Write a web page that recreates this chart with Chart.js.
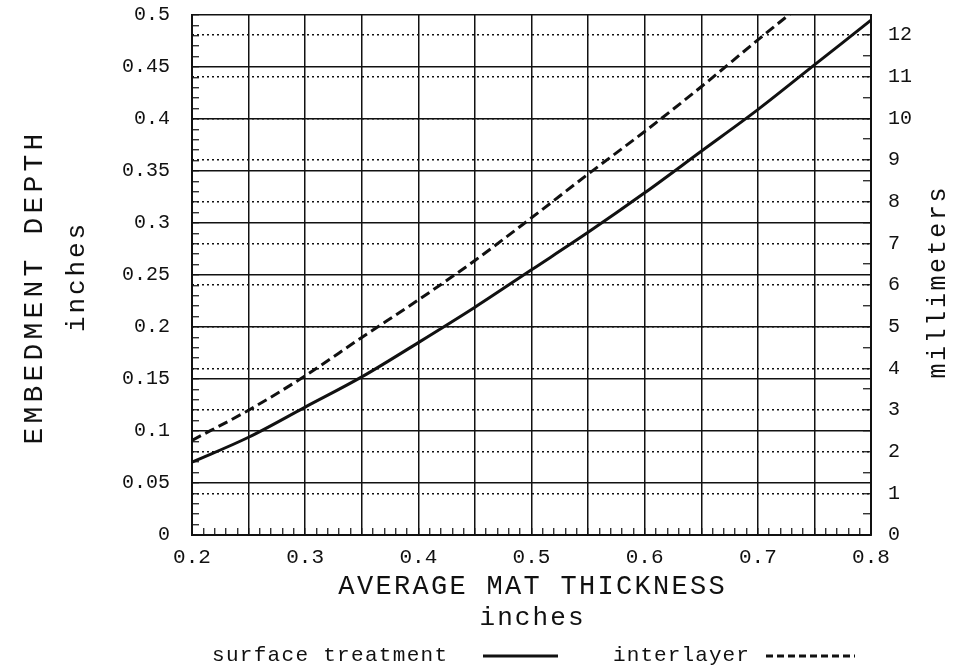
<!DOCTYPE html>
<html>
<head>
<meta charset="utf-8">
<script src="https://cdn.jsdelivr.net/npm/chart.js@4"></script>
<style>
  html, body { margin: 0; padding: 0; background: #fff; }
  #chart { display: block; }
</style>
</head>
<body>
<canvas id="chart" width="955" height="669"></canvas>
<script>
// Average mat thickness (inches)
const thickness = [0.2, 0.25, 0.3, 0.35, 0.4, 0.45, 0.5, 0.55, 0.6, 0.65, 0.7, 0.75, 0.8];
// Embedment depth (inches)
const surfaceTreatment = [0.070, 0.094, 0.123, 0.152, 0.185, 0.219, 0.255, 0.291, 0.329, 0.369, 0.409, 0.452, 0.495];
const interlayer = [0.091, 0.120, 0.153, 0.190, 0.226, 0.264, 0.305, 0.347, 0.388, 0.431, 0.476, 0.520];

const xRange = [0.2, 0.8];
const inchRange = [0, 0.5];
const mmRange = [0, 12.48];

const MONO = '"Liberation Mono", "DejaVu Sans Mono", monospace';
const INK = '#111';

// multiple of step, with float tolerance
function isMultiple(v, step) {
  const r = v / step;
  return Math.abs(r - Math.round(r)) < 1e-6;
}

function toPoints(ys) {
  return ys.map((y, i) => ({ x: thickness[i], y: y }));
}

// fixed box sizes so the plot area lands where the original one is
function fixBox(size) {
  return function (scale) {
    if (scale.isHorizontal()) scale.height = size;
    else scale.width = size;
    scale.paddingTop = 0;
    scale.paddingBottom = 0;
    scale.paddingLeft = 0;
    scale.paddingRight = 0;
  };
}

// axis titles and legend, drawn as canvas text
const textsPlugin = {
  id: 'chartTexts',
  afterDraw(chart) {
    const ctx = chart.ctx;
    const area = chart.chartArea;
    const cx = (area.left + area.right) / 2;

    function text(str, x, y, size, spacing, rot, align) {
      ctx.save();
      ctx.font = size + 'px ' + MONO;
      ctx.fillStyle = INK;
      ctx.textBaseline = 'middle';
      ctx.textAlign = align || 'center';
      if ('letterSpacing' in ctx) ctx.letterSpacing = spacing + 'px';
      ctx.translate(x, y);
      if (rot) ctx.rotate(rot);
      ctx.fillText(str, (align ? 0 : spacing / 2), 0);
      ctx.restore();
    }

    text('AVERAGE MAT THICKNESS', cx, 587, 27, 2.3);
    text('inches', cx, 618, 26, 2.1);
    text('EMBEDMENT DEPTH', 35, 289, 28, 4.2, -Math.PI / 2);
    text('inches', 77, 278, 26, 2.9, -Math.PI / 2);
    text('millimeters', 938, 283, 25, 2.6, -Math.PI / 2);

    // legend: label then line sample
    const ly = 655;
    const ds = chart.data.datasets;
    text(ds[0].label, 212, ly, 21, 1.3, 0, 'left');
    text(ds[1].label, 613, ly, 21, 1.1, 0, 'left');
    ctx.save();
    ctx.strokeStyle = INK;
    ctx.lineWidth = 3;
    ctx.beginPath();
    ctx.moveTo(483, ly + 1);
    ctx.lineTo(558, ly + 1);
    ctx.stroke();
    ctx.setLineDash([7, 4]);
    ctx.beginPath();
    ctx.moveTo(766, ly + 1);
    ctx.lineTo(855, ly + 1);
    ctx.stroke();
    ctx.restore();
  }
};

const ctx = document.getElementById('chart').getContext('2d');

new Chart(ctx, {
  type: 'line',
  data: {
    datasets: [
      {
        label: 'surface treatment',
        data: toPoints(surfaceTreatment),
        borderColor: INK,
        borderWidth: 3,
        pointRadius: 0,
        tension: 0.4,
        cubicInterpolationMode: 'monotone',
        yAxisID: 'y'
      },
      {
        label: 'interlayer',
        data: toPoints(interlayer),
        borderColor: INK,
        borderWidth: 3,
        borderDash: [10, 5],
        pointRadius: 0,
        tension: 0.4,
        cubicInterpolationMode: 'monotone',
        yAxisID: 'y'
      }
    ]
  },
  options: {
    responsive: false,
    animation: false,
    events: [],
    layout: { padding: { top: 15, left: 0, right: 0, bottom: 0 } },
    plugins: {
      legend: { display: false },
      tooltip: { enabled: false }
    },
    scales: {
      x: {
        type: 'linear',
        min: xRange[0],
        max: xRange[1],
        afterFit: fixBox(134),
        border: { display: true, color: INK, width: 2 },
        grid: {
          color: c => isMultiple(c.tick.value, 0.05) ? INK : 'rgba(0,0,0,0)',
          lineWidth: 1.5,
          tickColor: INK,
          tickWidth: 1.2,
          tickLength: -7
        },
        ticks: {
          stepSize: 0.01,
          autoSkip: false,
          maxRotation: 0,
          padding: 17,
          color: INK,
          font: { family: MONO, size: 21 },
          callback: v => isMultiple(v, 0.1) ? (+v.toFixed(1)).toString() : ''
        }
      },
      y: {
        type: 'linear',
        position: 'left',
        min: inchRange[0],
        max: inchRange[1],
        afterFit: fixBox(192),
        border: { display: true, color: INK, width: 2 },
        grid: {
          color: c => isMultiple(c.tick.value, 0.05) ? INK : 'rgba(0,0,0,0)',
          lineWidth: 1.5,
          tickColor: INK,
          tickWidth: 1.2,
          tickLength: -7
        },
        ticks: {
          stepSize: 0.01,
          autoSkip: false,
          padding: 29,
          color: INK,
          font: { family: MONO, size: 20 },
          callback: v => isMultiple(v, 0.05) ? (+v.toFixed(2)).toString() : ''
        }
      },
      mm: {
        type: 'linear',
        position: 'right',
        min: mmRange[0],
        max: mmRange[1],
        afterFit: fixBox(84),
        border: { display: true, color: INK, width: 2, dash: [2, 3] },
        grid: {
          color: c => (isMultiple(c.tick.value, 1) && c.tick.value > 0) ? INK : 'rgba(0,0,0,0)',
          lineWidth: 1.5,
          tickColor: INK,
          tickWidth: 1.2,
          tickLength: -8,
          tickBorderDash: []
        },
        ticks: {
          stepSize: 0.5,
          includeBounds: false,
          autoSkip: false,
          padding: 25,
          color: INK,
          font: { family: MONO, size: 20 },
          callback: v => isMultiple(v, 1) ? String(Math.round(v)) : ''
        }
      }
    }
  },
  plugins: [textsPlugin]
});
</script>
</body>
</html>
